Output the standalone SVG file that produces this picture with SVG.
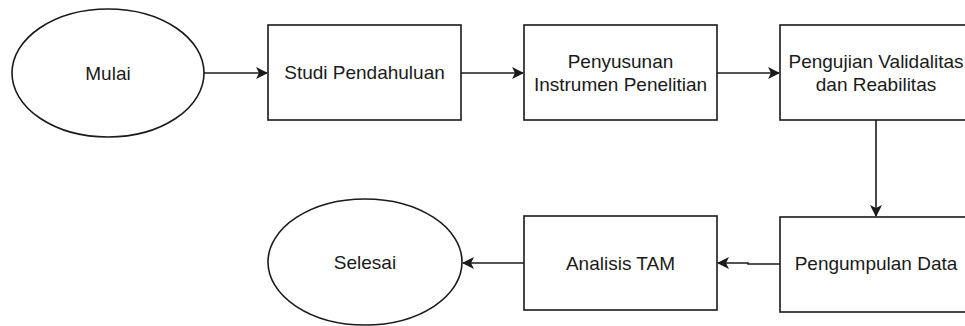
<svg xmlns="http://www.w3.org/2000/svg" width="965" height="326" viewBox="0 0 965 326">
<style>
.shape{fill:#fff;stroke:#1a1a1a;stroke-width:1.6}
.lbl{font-family:"Liberation Sans",Arial,sans-serif;font-size:19px;fill:#1a1a1a;text-anchor:middle;dominant-baseline:central}
.edge{fill:none;stroke:#1a1a1a;stroke-width:1.6}
</style>
<defs>
<marker id="arr" viewBox="0 0 12 12" refX="11" refY="6" markerWidth="12" markerHeight="12" markerUnits="userSpaceOnUse" orient="auto">
<path d="M0,0 L12,6 L0,12 L3,6 Z" fill="#1a1a1a"/>
</marker>
</defs>
<rect width="965" height="326" fill="#fff"/>
<g id="edges">
<path class="edge" d="M204,73 H267" marker-end="url(#arr)"/>
<path class="edge" d="M461,73 H523" marker-end="url(#arr)"/>
<path class="edge" d="M717,73 H779" marker-end="url(#arr)"/>
<path class="edge" d="M876,120 V216" marker-end="url(#arr)"/>
<path class="edge" d="M780,264 H748 V263 H718" marker-end="url(#arr)"/>
<path class="edge" d="M524,263 H463" marker-end="url(#arr)"/>
</g>
<g id="mulai">
<ellipse class="shape" cx="108" cy="73" rx="96" ry="64"/>
<text class="lbl" x="108" y="73">Mulai</text>
</g>
<g id="studi">
<rect class="shape" x="268" y="25" width="193" height="95"/>
<text class="lbl" x="364.5" y="72.5">Studi Pendahuluan</text>
</g>
<g id="penyusunan">
<rect class="shape" x="524" y="25" width="193" height="95"/>
<text class="lbl" x="620.5" y="61">Penyusunan</text>
<text class="lbl" x="620.5" y="84">Instrumen Penelitian</text>
</g>
<g id="pengujian">
<rect class="shape" x="780" y="25" width="193" height="95"/>
<text class="lbl" x="876" y="61">Pengujian Validalitas</text>
<text class="lbl" x="876" y="84">dan Reabilitas</text>
</g>
<g id="pengumpulan">
<rect class="shape" x="780" y="217" width="193" height="95"/>
<text class="lbl" x="876" y="263">Pengumpulan Data</text>
</g>
<g id="analisis">
<rect class="shape" x="524" y="216" width="193" height="94"/>
<text class="lbl" x="620.5" y="263">Analisis TAM</text>
</g>
<g id="selesai">
<ellipse class="shape" cx="365" cy="262" rx="97" ry="63"/>
<text class="lbl" x="365" y="262">Selesai</text>
</g>
</svg>
